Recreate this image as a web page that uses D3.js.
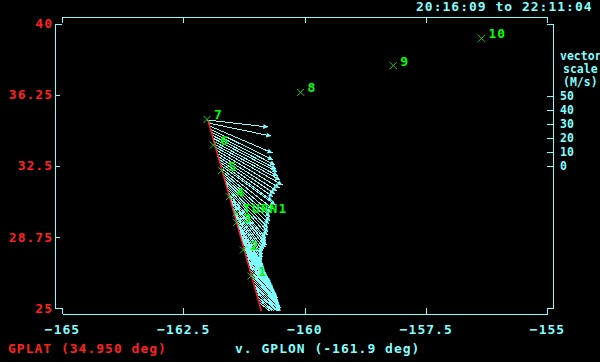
<!DOCTYPE html>
<html>
<head>
<meta charset="utf-8">
<script src="https://cdn.jsdelivr.net/npm/d3@7"></script>
<style>
  html, body { margin: 0; padding: 0; background: #000; }
  svg { display: block; }
  text { font-family: 'DejaVu Sans Mono', monospace; font-weight: bold; font-size: 13px; letter-spacing: 1px; }
  text.small { font-size: 11.5px; letter-spacing: 0; }
</style>
</head>
<body>
<div id="chart"></div>
<script>
// ---- data ----
const TIME_RANGE = '20:16:09 to 22:11:04';
const Y_TITLE = 'GPLAT (34.950 deg)';
const X_TITLE = 'v. GPLON (-161.9 deg)';
const SCALE_TITLE = ['vector', 'scale', '(M/s)'];

const LON_TICKS = [-165, -162.5, -160, -157.5, -155];
const LAT_TICKS = [25, 28.75, 32.5, 36.25, 40];
const SPEED_TICKS = [0, 10, 20, 30, 40, 50];

// wind vectors along the flight track: base position (deg) and u/v (m/s)
const baseLat = [
  34.91, 34.75, 34.60, 34.44, 34.28, 34.12, 33.96, 33.80, 33.64, 33.49,
  33.33, 33.17, 33.01, 32.85, 32.70, 32.54, 32.38, 32.22, 32.06, 31.90,
  31.75, 31.59, 31.43, 31.27, 31.11, 30.96, 30.80, 30.64, 30.48, 30.32,
  30.16, 30.01, 29.85, 29.69, 29.53, 29.37, 29.22, 29.06, 28.90, 28.74,
  28.58, 28.42, 28.27, 28.11, 27.95, 27.79, 27.63, 27.48, 27.32, 27.16,
  27.00, 26.84, 26.68, 26.53, 26.37, 26.21, 26.05, 25.89, 25.74, 25.58,
  25.42, 25.26
];
const baseLon = [
  -162.00, -161.98, -161.96, -161.95, -161.93, -161.91, -161.89, -161.88, -161.86, -161.84,
  -161.82, -161.81, -161.79, -161.77, -161.75, -161.73, -161.72, -161.70, -161.68, -161.66,
  -161.65, -161.63, -161.61, -161.59, -161.58, -161.56, -161.54, -161.52, -161.50, -161.49,
  -161.47, -161.45, -161.43, -161.42, -161.40, -161.38, -161.36, -161.35, -161.33, -161.31,
  -161.29, -161.27, -161.26, -161.24, -161.22, -161.20, -161.19, -161.17, -161.15, -161.13,
  -161.12, -161.10, -161.08, -161.06, -161.04, -161.03, -161.01, -160.99, -160.97, -160.96,
  -160.94, -160.92
];
const windU = [
  43.4, 44.9, 45.0, 45.1, 45.9, 46.0, 46.1, 46.2, 47.1, 47.9,
  45.1, 43.1, 41.0, 39.0, 37.6, 39.2, 37.1, 35.1, 33.8, 33.1,
  31.9, 30.5, 29.9, 28.6, 27.2, 26.6, 25.3, 25.4, 24.1, 22.8,
  21.4, 20.1, 19.5, 18.9, 17.6, 17.6, 17.8, 17.9, 17.9, 18.1,
  18.1, 18.3, 19.1, 19.2, 19.3, 19.4, 19.5, 19.6, 19.7, 19.8,
  19.2, 19.3, 19.4, 18.8, 18.9, 18.3, 18.4, 17.8, 17.9, 17.2,
  17.4, 16.7
];
const windV = [
  -5.0, -9.3, -19.3, -22.1, -23.6, -24.3, -24.3, -25.0, -25.7, -27.1,
  -27.1, -27.1, -27.1, -27.1, -27.9, -28.6, -29.3, -30.0, -30.7, -31.4,
  -31.4, -32.1, -32.9, -32.9, -32.9, -32.9, -32.1, -31.4, -30.7, -30.0,
  -29.3, -29.3, -29.3, -29.3, -28.6, -28.6, -28.6, -28.6, -28.6, -28.6,
  -27.9, -27.1, -26.4, -25.7, -25.7, -25.0, -24.3, -23.6, -22.9, -22.1,
  -21.4, -20.7, -20.0, -19.3, -18.6, -17.9, -17.1, -16.4, -15.7, -15.0,
  -14.3, -13.6
];

// flight track (red)
const trackLon = [-161.99, -160.89];
const trackLat = [34.90, 24.84];

// waypoint marks
const markName = ['7', '6', '5', '4', 'TURN1', '3', '2', '1', '8', '9', '10'];
const markLon  = [-162.01, -161.88, -161.71, -161.55, -161.41, -161.40, -161.26, -161.10, -160.08, -158.17, -156.35];
const markLat  = [34.94, 33.59, 32.24, 30.87, 30.01, 29.50, 28.06, 26.69, 36.37, 37.78, 39.22];

(function () {
  'use strict';

  const W = 600, H = 362;
  const CYAN = '#80ffff';
  const RED = '#ff2020';
  const GREEN = '#00ff00';
  const MARK_GREEN = '#20d020';

  const svg = d3.select('#chart').append('svg')
    .attr('width', W).attr('height', H)
    .style('background', '#000');

  const x = d3.scaleLinear().domain([-165, -155]).range([62, 547]);
  const y = d3.scaleLinear().domain([25, 40]).range([308, 23.5]);
  // vector scale: 0 m/s sits on the 32.5 deg line, 50 m/s is 70 px above it
  const spd = d3.scaleLinear().domain([0, 50]).range([y(32.5), y(32.5) - 70]);
  const pxPerMs = spd(0) - spd(1);
  const fmt = d3.format('');

  function styleAxis(g) {
    g.selectAll('path, line')
      .attr('stroke', CYAN).attr('shape-rendering', 'crispEdges');
    g.selectAll('text').attr('font-family', null).attr('font-size', null);
  }

  // bottom axis (ticks point up into the plot)
  svg.append('g').attr('transform', 'translate(0,314)')
    .call(d3.axisBottom(x).tickValues(LON_TICKS).tickFormat(fmt)
      .tickSize(-6).tickSizeOuter(0).tickPadding(11))
    .call(styleAxis)
    .call(g => g.selectAll('text').attr('fill', CYAN));

  // top axis, no labels
  svg.append('g').attr('transform', 'translate(0,17)')
    .call(d3.axisTop(x).tickValues(LON_TICKS).tickSize(-6).tickSizeOuter(0).tickFormat(''))
    .call(styleAxis);

  // left axis (red labels)
  svg.append('g').attr('transform', 'translate(55,0)')
    .call(d3.axisLeft(y).tickValues(LAT_TICKS).tickFormat(fmt)
      .tickSize(-7).tickSizeOuter(0).tickPadding(2))
    .call(styleAxis)
    .call(g => g.selectAll('text').attr('fill', RED))
    .call(g => g.selectAll('.tick line').filter(d => d !== 25 && d !== 40).attr('x2', 5));

  // right axis: only end ticks for latitude
  svg.append('g').attr('transform', 'translate(553,0)')
    .call(d3.axisLeft(y).tickValues([25, 40]).tickSize(6).tickSizeOuter(0).tickFormat(''))
    .call(styleAxis);

  // vector speed scale on the right axis
  svg.append('g').attr('transform', 'translate(553,0)')
    .call(d3.axisLeft(spd).tickValues(SPEED_TICKS).tickSize(6).tickSizeOuter(0))
    .call(styleAxis)
    .call(g => g.select('.domain').remove())
    .call(g => g.selectAll('text').attr('class', 'small').attr('fill', CYAN)
      .attr('x', 7).attr('text-anchor', 'start'));

  SCALE_TITLE.forEach((t, i) => {
    svg.append('text').attr('class', 'small')
      .attr('x', i === 0 ? 560 : 563).attr('y', 60 + i * 12.8)
      .attr('fill', CYAN).text(t);
  });

  // titles
  svg.append('text').attr('x', 416).attr('y', 10.5).attr('fill', CYAN).text(TIME_RANGE);
  svg.append('text').attr('x', 8).attr('y', 353).attr('fill', RED).text(Y_TITLE);
  svg.append('text').attr('x', 235).attr('y', 353).attr('fill', CYAN).text(X_TITLE);

  // clip for the data
  svg.append('clipPath').attr('id', 'plot-clip')
    .append('rect').attr('x', 56).attr('y', 17).attr('width', 497).attr('height', 294);

  const plot = svg.append('g').attr('clip-path', 'url(#plot-clip)');

  // wind vectors
  const vec = plot.append('g');
  baseLat.forEach((lat, i) => {
    const bx = x(baseLon[i]), by = y(lat);
    const tx = bx + windU[i] * pxPerMs, ty = by - windV[i] * pxPerMs;
    const len = Math.hypot(tx - bx, ty - by) || 1;
    const ux = (tx - bx) / len, uy = (ty - by) / len;
    vec.append('line')
      .attr('x1', bx).attr('y1', by).attr('x2', tx).attr('y2', ty)
      .attr('stroke', CYAN).attr('stroke-width', 1)
      .attr('shape-rendering', 'crispEdges');
    const hx = tx - ux * 5, hy = ty - uy * 5;
    vec.append('path')
      .attr('d', `M${tx},${ty}L${hx - uy * 2.5},${hy + ux * 2.5}L${hx + uy * 2.5},${hy - ux * 2.5}Z`)
      .attr('fill', CYAN);
  });

  // flight track
  plot.append('path')
    .datum(trackLon.map((lon, i) => [lon, trackLat[i]]))
    .attr('d', d3.line().x(d => x(d[0])).y(d => y(d[1])))
    .attr('fill', 'none').attr('stroke', RED).attr('stroke-width', 1.5);

  // waypoint marks
  const marks = plot.append('g');
  markName.forEach((name, i) => {
    const mx = x(markLon[i]), my = y(markLat[i]);
    marks.append('path')
      .attr('d', `M${mx - 3.5},${my - 3.5}L${mx + 3.5},${my + 3.5}M${mx - 3.5},${my + 3.5}L${mx + 3.5},${my - 3.5}`)
      .attr('stroke', MARK_GREEN).attr('stroke-width', 1).attr('fill', 'none');
    marks.append('text')
      .attr('x', mx + 7).attr('y', my)
      .attr('fill', GREEN).text(name);
  });
})();
</script>
</body>
</html>
